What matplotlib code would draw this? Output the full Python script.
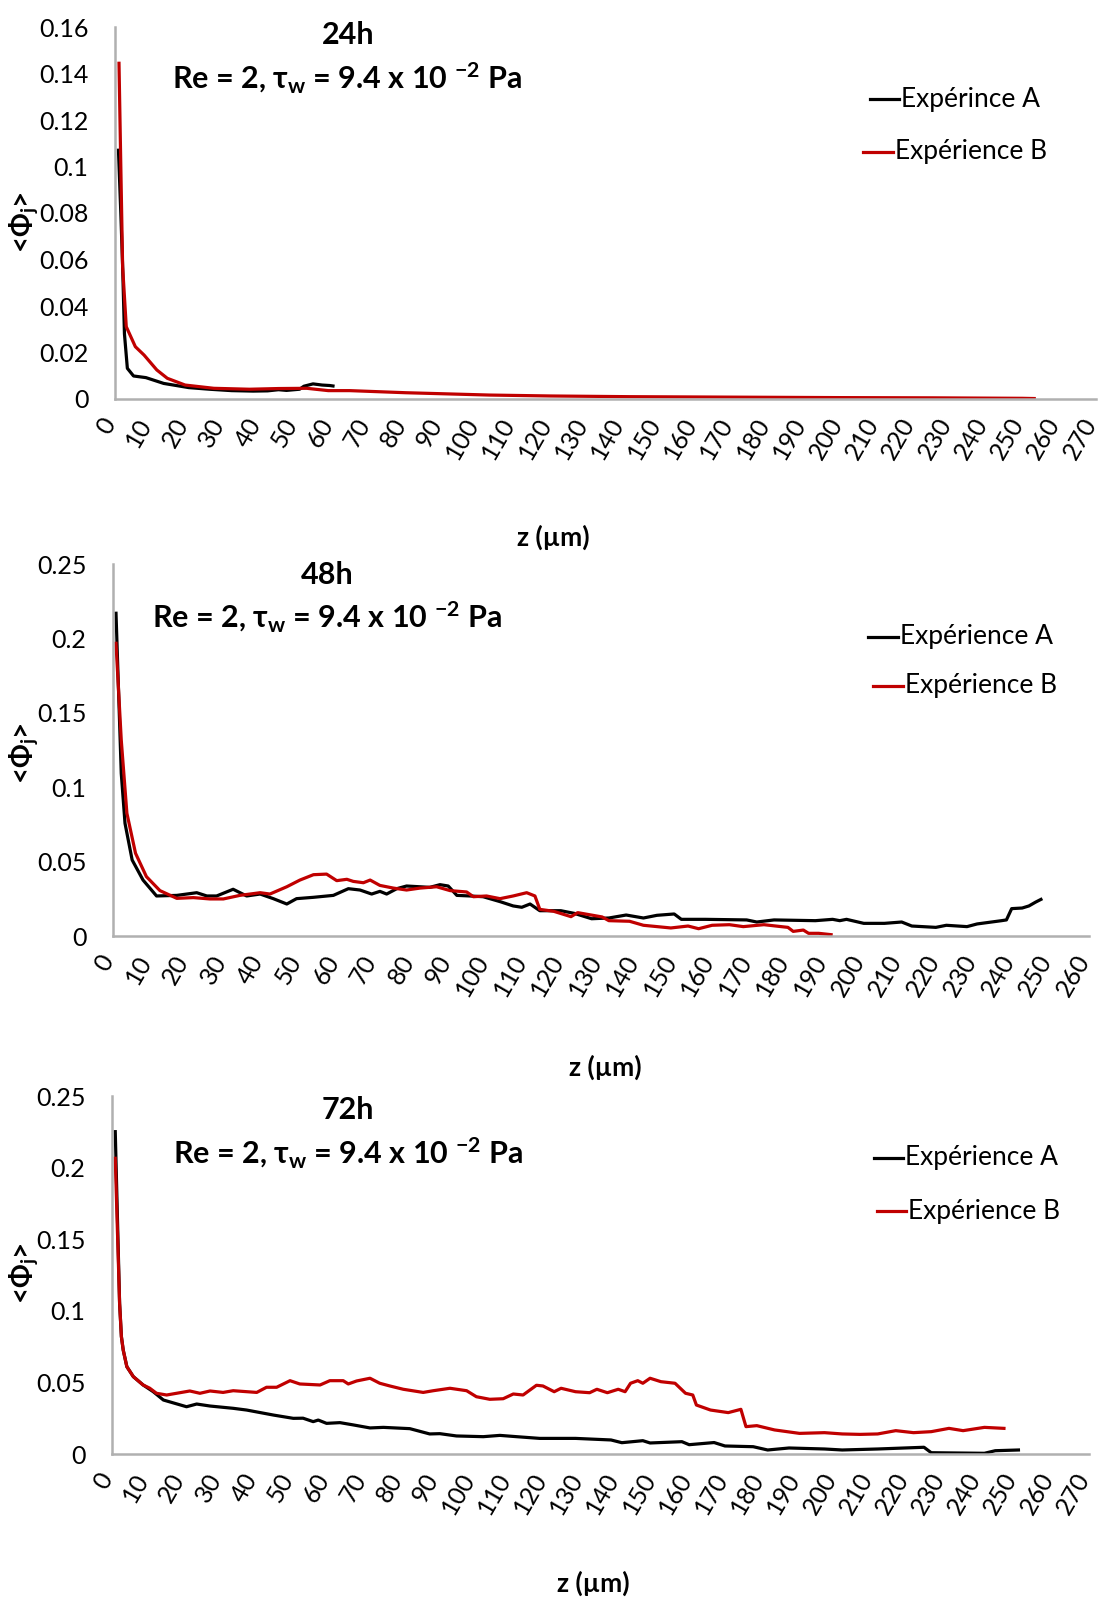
import matplotlib
matplotlib.use("Agg")
import matplotlib.pyplot as plt
import matplotlib.transforms as mtransforms
from matplotlib.lines import Line2D

plt.rcParams['font.family'] = ['Lato', 'DejaVu Sans']
plt.rcParams['mathtext.fontset'] = 'custom'
plt.rcParams['mathtext.rm'] = 'Lato:bold'
plt.rcParams['mathtext.it'] = 'Lato:bold'
plt.rcParams['mathtext.bf'] = 'Lato:bold'

W, H = 1098, 1598
RED = '#C00000'
GREY = '#B0B0B0'

# ---- 24h ----
z_a24 = [0.95, 1.6, 2.1, 2.6, 3.4, 5.1, 8.5, 13.4, 20.3, 26, 32.1, 38, 42, 45, 47.2, 50.8, 52, 54.5, 57, 59.1, 60]
phi_a24 = [0.107, 0.080, 0.057, 0.028, 0.0132, 0.0099, 0.0092, 0.0067, 0.0049, 0.0042, 0.0036, 0.0034, 0.0035,
           0.0040, 0.0037, 0.0042, 0.0055, 0.0065, 0.0060, 0.0058, 0.0056]
z_b24 = [1.1, 1.6, 2.1, 3.1, 5.6, 8.0, 11.5, 14.4, 19.3, 27.2, 37, 45, 52.8, 58.7, 64.6, 80, 103, 120, 141.7, 170,
         199.6, 225, 249.7, 253]
phi_b24 = [0.1444, 0.100, 0.0569, 0.0311, 0.0225, 0.0189, 0.0125, 0.0089, 0.0060, 0.0046, 0.0042, 0.0045, 0.0046,
           0.0036, 0.0036, 0.0027, 0.0017, 0.0013, 0.0010, 0.0008, 0.0006, 0.0005, 0.0003, 0.0002]

# ---- 48h ----
z_a48 = [0.8, 2.2, 3.2, 5.1, 8.0, 11.6, 17.0, 22.3, 25.0, 27.6, 32.0, 35.6, 39.2, 42.7, 46.3, 48.9, 53.4, 58.7,
         62.7, 65.8, 68.9, 71.1, 72.9, 75.6, 78.2, 84.4, 87.1, 89.3, 91.6, 95.1, 98.6, 103.1, 106.6, 108.9, 111.1,
         113.7, 119.3, 122.9, 127.5, 132.1, 136.7, 141.3, 144.9, 149.5, 151.4, 157.8, 168.8, 171.5, 176.1, 187.1,
         191.7, 193.6, 195.4, 200.0, 205.5, 210.1, 212.8, 219.2, 222.0, 227.5, 230.2, 236.7, 238.0, 239.4, 242.2,
         244.0, 245.8, 247.2]
phi_a48 = [0.2169, 0.1093, 0.0757, 0.0511, 0.0376, 0.0269, 0.0273, 0.0291, 0.0269, 0.0269, 0.0314, 0.0269, 0.0282,
           0.0251, 0.0215, 0.0251, 0.0260, 0.0273, 0.0318, 0.0309, 0.0282, 0.0300, 0.0282, 0.0318, 0.0336, 0.0327,
           0.0345, 0.0336, 0.0273, 0.0269, 0.0264, 0.0231, 0.0202, 0.0193, 0.0215, 0.0170, 0.0170, 0.0152, 0.0116,
           0.0121, 0.0141, 0.0121, 0.0139, 0.0148, 0.0112, 0.0112, 0.0108, 0.0094, 0.0108, 0.0103, 0.0112, 0.0103,
           0.0112, 0.0085, 0.0085, 0.0094, 0.0067, 0.0058, 0.0072, 0.0063, 0.0081, 0.0103, 0.0108, 0.0184, 0.0188,
           0.0202, 0.0228, 0.0246]
z_b48 = [0.8, 2.2, 3.7, 6.0, 8.9, 12.5, 17.0, 21.4, 25.8, 29.4, 33.8, 39.2, 41.8, 46.3, 49.8, 53.4, 56.9, 59.6,
         62.3, 64.0, 66.7, 68.5, 71.1, 74.7, 78.2, 81.8, 86.2, 89.8, 94.2, 96.0, 99.5, 103.1, 106.6, 110.2, 112.4,
         113.7, 117.4, 122.0, 123.8, 130.3, 132.1, 137.6, 141.3, 148.6, 153.2, 156.0, 159.6, 164.2, 167.9, 173.4,
         178.0, 179.8, 181.2, 183.9, 185.3, 188.0, 191.3]
phi_b48 = [0.1967, 0.1317, 0.0825, 0.0556, 0.0399, 0.0305, 0.0253, 0.0258, 0.0249, 0.0249, 0.0273, 0.0291, 0.0282,
           0.0331, 0.0376, 0.0412, 0.0416, 0.0372, 0.0381, 0.0367, 0.0358, 0.0376, 0.0340, 0.0322, 0.0309, 0.0322,
           0.0331, 0.0305, 0.0296, 0.0264, 0.0269, 0.0251, 0.0269, 0.0291, 0.0269, 0.0179, 0.0166, 0.0130, 0.0157,
           0.0128, 0.0103, 0.0099, 0.0072, 0.0054, 0.0067, 0.0049, 0.0072, 0.0076, 0.0063, 0.0076, 0.0063, 0.0058,
           0.0031, 0.0040, 0.0018, 0.0018, 0.0009]

# ---- 72h ----
z_a72 = [0.9, 2.1, 2.6, 3.1, 4.1, 5.9, 8.6, 11.4, 14.2, 20.6, 23.4, 27.1, 33.5, 37.2, 44.6, 50.1, 52.8, 55.6, 57.0,
         59.3, 63.0, 66.7, 71.3, 75.0, 82.3, 87.8, 90.6, 95.2, 102.6, 107.2, 111.8, 118.2, 128.1, 137.9, 140.9,
         146.7, 148.7, 157.5, 159.5, 166.4, 169.4, 177.2, 181.2, 187.1, 196.9, 201.8, 211.6, 224.4, 226.4, 241.1,
         244.1, 250.5]
phi_a72 = [0.2251, 0.1052, 0.0819, 0.0726, 0.0610, 0.0540, 0.0482, 0.0435, 0.0377, 0.0330, 0.0349, 0.0335, 0.0319,
           0.0307, 0.0272, 0.0249, 0.0250, 0.0226, 0.0237, 0.0214, 0.0219, 0.0203, 0.0182, 0.0186, 0.0177, 0.0140,
           0.0142, 0.0126, 0.0121, 0.0130, 0.0121, 0.0109, 0.0109, 0.0098, 0.0079, 0.0093, 0.0077, 0.0086, 0.0065,
           0.0080, 0.0056, 0.0051, 0.0028, 0.0042, 0.0035, 0.0028, 0.0035, 0.0047, 0.0009, 0.0005, 0.0023, 0.0028]
z_b72 = [0.9, 2.1, 2.6, 3.1, 4.1, 5.9, 8.6, 10.4, 12.3, 15.1, 21.5, 24.3, 27.1, 30.7, 33.5, 40.0, 42.7, 45.5, 49.2,
         51.9, 57.5, 60.2, 63.9, 65.3, 67.6, 71.3, 74.0, 76.8, 80.5, 86.0, 88.8, 93.4, 98.0, 100.7, 104.4, 108.1,
         110.9, 113.6, 117.3, 119.1, 122.2, 124.1, 128.1, 132.0, 134.0, 136.9, 139.9, 141.8, 143.3, 145.3, 146.7,
         148.7, 151.7, 155.6, 158.5, 160.5, 161.5, 165.4, 170.3, 173.8, 175.2, 178.2, 183.1, 190.0, 196.9, 201.8,
         206.7, 211.6, 216.6, 221.5, 226.4, 231.3, 235.2, 241.1, 246.5]
phi_b72 = [0.2065, 0.1052, 0.0819, 0.0726, 0.0610, 0.0540, 0.0482, 0.0460, 0.0424, 0.0412, 0.0440, 0.0424, 0.0440,
           0.0430, 0.0442, 0.0430, 0.0466, 0.0466, 0.0512, 0.0489, 0.0482, 0.0512, 0.0512, 0.0489, 0.0510, 0.0529,
           0.0494, 0.0475, 0.0452, 0.0430, 0.0442, 0.0459, 0.0442, 0.0400, 0.0382, 0.0386, 0.0419, 0.0412, 0.0480,
           0.0475, 0.0435, 0.0459, 0.0435, 0.0428, 0.0452, 0.0428, 0.0452, 0.0435, 0.0494, 0.0512, 0.0494, 0.0529,
           0.0505, 0.0494, 0.0424, 0.0412, 0.0342, 0.0307, 0.0289, 0.0312, 0.0191, 0.0198, 0.0168, 0.0144, 0.0149,
           0.0140, 0.0137, 0.0140, 0.0163, 0.0149, 0.0156, 0.0179, 0.0163, 0.0186, 0.0179]

titles = ['24h', '48h', '72h']
legend_a = ['Expérince A', 'Expérience A', 'Expérience A']
legend_b = ['Expérience B', 'Expérience B', 'Expérience B']
xmax = [270, 260, 270]
ymax = [0.16, 0.25, 0.25]
ystep = [0.02, 0.05, 0.05]
ytick_labels = [['0', '0.02', '0.04', '0.06', '0.08', '0.1', '0.12', '0.14', '0.16'],
                ['0', '0.05', '0.1', '0.15', '0.2', '0.25'],
                ['0', '0.05', '0.1', '0.15', '0.2', '0.25']]
series = [(z_a24, phi_a24, z_b24, phi_b24),
          (z_a48, phi_a48, z_b48, phi_b48),
          (z_a72, phi_a72, z_b72, phi_b72)]

# layout, in pixels of the 1098x1598 picture
boxes = [(115, 27, 1096, 399), (113, 564, 1089, 936), (112, 1096, 1089, 1454)]
title_xy = [(348, 35), (327, 575), (348, 1110)]
sub_xy = [(347, 78), (327, 617), (348, 1153)]
ylab_xy = [(23, 222), (23, 753), (23, 1273)]
xlab_xy = [(553, 537), (605, 1067), (593, 1583)]
leg_xy = [((870, 899, 99), (863, 893, 152)),
          ((868, 898, 637), (873, 903, 686)),
          ((874, 903, 1158), (877, 906, 1211))]


def fx(px):
    return px / W


def fy(py):
    return 1 - py / H


fig = plt.figure(figsize=(W / 100, H / 100), dpi=100)
shift = mtransforms.ScaledTranslation(-5 / 100, 0, fig.dpi_scale_trans)

for i in range(3):
    x0, y0, x1, y1 = boxes[i]
    ax = fig.add_axes([fx(x0), fy(y1), (x1 - x0) / W, (y1 - y0) / H])
    za, pa, zb, pb = series[i]
    ax.plot(za, pa, color='black', lw=2.3, solid_joinstyle='round')
    ax.plot(zb, pb, color=RED, lw=2.3, solid_joinstyle='round')

    ax.set_xlim(0, xmax[i])
    ax.set_ylim(0, ymax[i])
    ax.set_xticks(range(0, xmax[i] + 1, 10))
    ax.set_xticklabels([str(v) for v in range(0, xmax[i] + 1, 10)])
    nt = len(ytick_labels[i])
    ax.set_yticks([k * ystep[i] for k in range(nt)])
    ax.set_yticklabels(ytick_labels[i])
    ax.tick_params(axis='both', length=0, labelsize=18)
    ax.tick_params(axis='y', pad=19)
    ax.tick_params(axis='x', pad=15)
    for lbl in ax.get_xticklabels():
        lbl.set_rotation(60)
        lbl.set_ha('right')
        lbl.set_va('center')
        lbl.set_rotation_mode('anchor')
        lbl.set_transform(lbl.get_transform() + shift)
    for s in ['top', 'right']:
        ax.spines[s].set_visible(False)
    for s in ['left', 'bottom']:
        ax.spines[s].set_color(GREY)
        ax.spines[s].set_linewidth(1.8)
    ax.patch.set_alpha(0)

    fig.text(fx(title_xy[i][0]), fy(title_xy[i][1]), titles[i], fontsize=22, fontweight='bold',
             ha='center', va='center')
    fig.text(fx(sub_xy[i][0]), fy(sub_xy[i][1]),
             r'Re = 2, τ$\mathrm{_w}$ = 9.4 x 10 $\mathrm{^{-2}}$ Pa',
             fontsize=22, fontweight='bold', ha='center', va='center')
    fig.text(fx(ylab_xy[i][0]), fy(ylab_xy[i][1]), r'<Φ$\mathrm{_j}$>', fontsize=20, fontweight='bold',
             rotation=90, ha='center', va='center')
    fig.text(fx(xlab_xy[i][0]), fy(xlab_xy[i][1]), 'z (µm)', fontsize=19, fontweight='bold',
             ha='center', va='center')

    (la, lb) = leg_xy[i]
    for (lx0, lx1, ly), col, lab in [(la, 'black', legend_a[i]), (lb, RED, legend_b[i])]:
        fig.add_artist(Line2D([fx(lx0), fx(lx1)], [fy(ly), fy(ly)], color=col, lw=2.3))
        fig.text(fx(lx1 + 2), fy(ly), lab, fontsize=19, ha='left', va='center')

fig.savefig('out.png', dpi=100)
